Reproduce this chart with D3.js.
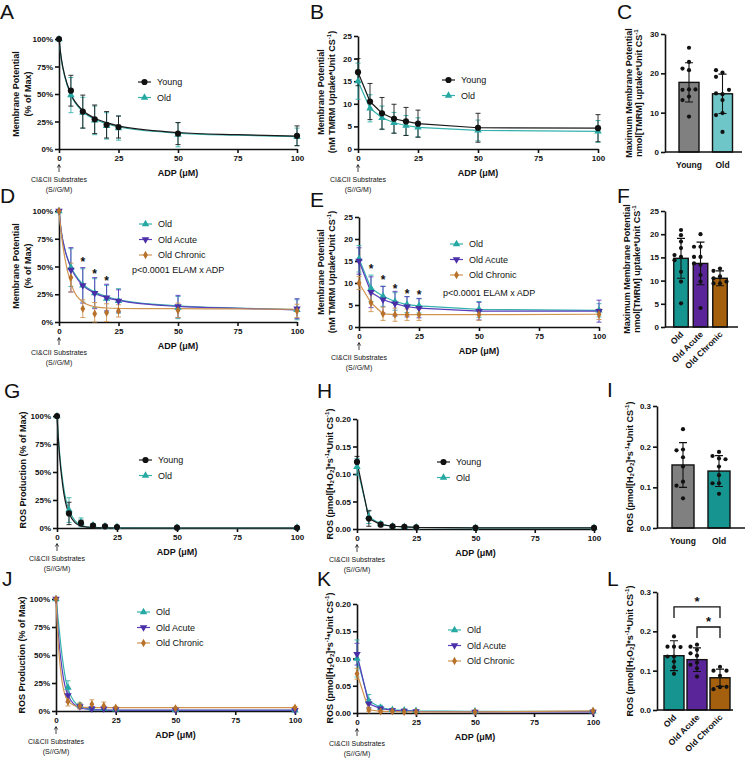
<!DOCTYPE html>
<html>
<head>
<meta charset="utf-8">
<script src="https://cdn.jsdelivr.net/npm/d3@7"></script>
<style>
  body { margin: 0; background: #fff; }
  svg { font-family: Arial, "Liberation Sans", sans-serif; }
  .tick text { font-weight: bold; font-size: 8px; fill: #111; }
  .domain, .tick line { stroke: #111; stroke-width: 1.6; }
</style>
</head>
<body>
<svg id="fig" width="746" height="759"></svg>
<script>
// ADP titration points and the points where the fitted curves are read
const adp = [0, 5, 10, 15, 20, 25, 50, 100];
const fitAdp = [0, 1, 2.5, 5, 10, 15, 20, 25, 50, 75, 100];
const adpTicks = [0, 25, 50, 75, 100];

// A - membrane potential, % of max
const aYoung = [100, 53, 34, 27, 22, 20, 14, 12];
const aYoungSd = [0, 14, 15, 13, 12, 10, 10, 9];
const aOld = [100, 49, 33, 26, 21, 19, 13, 11];
const aOldSd = [0, 16, 14, 13, 12, 11, 11, 8];
const aYoungFit = [100, 82, 66, 50, 35, 28, 24, 21, 15, 13, 11.7];
const aOldFit = [100, 81, 65, 49, 34, 27, 23, 20, 14.5, 12.5, 11.2];

// B - membrane potential, absolute
const bYoung = [17, 10.5, 7.9, 6.7, 6.1, 5.6, 4.7, 4.6];
const bYoungSd = [3, 4, 3.5, 3.2, 3.1, 3, 3.2, 3];
const bOld = [15, 9, 6.9, 5.8, 5.2, 4.8, 4.1, 3.9];
const bOldSd = [4, 3, 2.6, 2.3, 2.2, 2.1, 2.3, 2.4];

// C - max membrane potential
const cGroups = ["Young", "Old"];
const cMeans = [17.7, 14.8];
const cSds = [5.0, 5.0];
const cYoungPts = [26.5, 22.9, 20.8, 21.2, 15.9, 15.8, 15.9, 14.1, 13.2, 9.0];
const cOldPts = [20.2, 20.8, 19.1, 14.7, 14.9, 15.8, 13.2, 9.9, 9.4, 5.1];

// D - membrane potential, % of max, ELAM
const dOld = [100, 49, 33, 26, 21, 19, 13, 11];
const dOldSd = [0, 17, 15, 13, 12, 11, 10, 9];
const dAcute = [100, 47, 33, 26, 22, 19, 14, 12];
const dAcuteSd = [0, 20, 16, 14, 12, 10, 10, 9];
const dChronic = [100, 40, 12, 7.5, 8.4, 10, 10.5, 10];
const dChronicSd = [0, 13, 8, 10, 8, 5.5, 6.5, 6];
const dOldFit = [100, 81, 65, 50, 34, 27, 23, 20, 14.5, 12.5, 11.2];
const dAcuteFit = [100, 81, 65, 49, 33, 26, 22, 19.5, 14, 12.3, 11];
const dChronicFit = [100, 79, 57, 35, 18, 13.8, 12.6, 12.2, 12, 11.8, 11.5];
const dStarX = [10, 15, 20];
const dStarY = [55, 44, 38];

// E - membrane potential, absolute, ELAM
const eOld = [15.5, 8.8, 7.0, 5.8, 5.1, 4.8, 4.0, 3.8];
const eOldSd = [3, 3, 2.3, 2, 1.8, 1.6, 1.8, 1.5];
const eAcute = [15, 7.9, 6.2, 5.3, 4.6, 4.3, 3.6, 3.6];
const eAcuteSd = [3, 3.5, 3, 2.8, 2.3, 2.2, 2, 2.5];
const eChronic = [10, 5.5, 3.0, 2.8, 2.8, 2.8, 2.8, 2.9];
const eChronicSd = [1.5, 2, 1.5, 1.5, 1.3, 1.3, 1.3, 1.2];
const eStarX = [5, 10, 15, 20, 25];
const eStarY = [13.5, 11, 8.9, 7.8, 7.6];

// F - max membrane potential, ELAM
const elamGroups = ["Old", "Old Acute", "Old Chronic"];
const fMeans = [14.8, 13.7, 10.5];
const fSds = [4.3, 4.6, 1.6];
const fOldPts = [20.9, 19.8, 18.4, 17.0, 15.1, 15.5, 14.4, 11.9, 9.8, 5.1];
const fAcutePts = [20.0, 17.3, 17.3, 15.1, 15.1, 13.4, 13.7, 11.2, 9.8, 4.1];
const fChronicPts = [12.6, 12.1, 10.9, 10.5, 9.4, 9.4, 9.8];

// G - ROS production, % of max
const gYoung = [100, 13, 4.5, 2.2, 1.5, 0.8, 0.3, 0.2];
const gYoungSd = [0, 10, 2.5, 1, 0.8, 0.5, 0.3, 0.2];
const gOld = [100, 16, 5, 2.5, 1.5, 1, 0.5, 0.3];
const gOldSd = [0, 11, 4, 1.5, 1, 0.5, 0.3, 0.2];
const gYoungFit = [100, 66, 36, 13, 1.7, 0.3, 0.1, 0, 0, 0, 0];
const gOldFit = [100, 69, 40, 16, 2.5, 0.5, 0.2, 0.1, 0, 0, 0];

// H - ROS, absolute
const hYoung = [0.122, 0.019, 0.008, 0.005, 0.004, 0.003, 0.002, 0.002];
const hYoungSd = [0.01, 0.014, 0.004, 0.002, 0.002, 0.001, 0.001, 0.001];
const hOld = [0.113, 0.022, 0.009, 0.005, 0.004, 0.003, 0.002, 0.002];
const hOldSd = [0.015, 0.012, 0.004, 0.002, 0.002, 0.001, 0.001, 0.001];

// I - ROS bars
const iMeans = [0.155, 0.14];
const iSds = [0.055, 0.038];
const iYoungPts = [0.243, 0.193, 0.191, 0.174, 0.151, 0.114, 0.104, 0.073];
const iOldPts = [0.187, 0.177, 0.171, 0.169, 0.151, 0.130, 0.110, 0.110, 0.084];

// J - ROS production, % of max, ELAM
const jOld = [100, 21, 5, 2.5, 2, 1.5, 1, 0.5];
const jOldSd = [0, 6, 2, 1.5, 1, 1, 0.5, 0.5];
const jAcute = [100, 14, 4, 2, 2, 1.5, 1, 0.8];
const jAcuteSd = [0, 6, 2, 1.5, 1.5, 1, 0.5, 0.5];
const jChronic = [100, 8.5, 4.5, 6, 4.5, 3, 2.4, 3];
const jChronicSd = [0, 4, 2.5, 4, 3.5, 1, 1, 1];
const jOldFit = [100, 80, 50, 20, 4, 1.5, 0.8, 0.5, 0.5, 0.5, 0.5];
const jAcuteFit = [100, 68, 38, 14, 2.7, 1.2, 0.9, 0.8, 0.8, 0.8, 0.8];
const jChronicFit = [100, 58, 27, 9, 3.4, 3.0, 3, 3, 3, 3, 3];

// K - ROS, absolute, ELAM
const kOld = [0.100, 0.022, 0.010, 0.006, 0.005, 0.004, 0.003, 0.003];
const kOldSd = [0.034, 0.012, 0.004, 0.002, 0.002, 0.001, 0.001, 0.001];
const kAcute = [0.108, 0.017, 0.008, 0.005, 0.004, 0.003, 0.002, 0.002];
const kAcuteSd = [0.02, 0.008, 0.004, 0.002, 0.002, 0.001, 0.001, 0.001];
const kChronic = [0.072, 0.006, 0.003, 0.003, 0.002, 0.002, 0.002, 0.004];
const kChronicSd = [0.01, 0.003, 0.002, 0.001, 0.001, 0.001, 0.001, 0.002];

// L - ROS bars, ELAM
const lMeans = [0.138, 0.128, 0.082];
const lSds = [0.038, 0.03, 0.022];
const lOldPts = [0.187, 0.161, 0.161, 0.160, 0.136, 0.136, 0.123, 0.109, 0.092];
const lAcutePts = [0.166, 0.161, 0.153, 0.144, 0.138, 0.121, 0.115, 0.106, 0.085];
const lChronicPts = [0.110, 0.100, 0.100, 0.087, 0.058, 0.053, 0.059];
const lSigFrom = ["Old", "Old Acute"];
const lSigTo = ["Old Chronic", "Old Chronic"];
const lSigY = [0.262, 0.211];

const C = {
  young: "#1a1a1a", youngBar: "#808080",
  old: "#35b2ae", oldBar: "#16948f", oldLight: "#6fc6c8",
  acute: "#5a3cbc", acuteBar: "#5a2599",
  chronic: "#d0944f", chronicBar: "#a4600f"
};

const svg = d3.select("#fig");

function richText(t, parts) {
  let shift = 0;
  parts.forEach(([s, kind]) => {
    const target = kind === "sup" ? -3.5 : kind === "sub" ? 2 : 0;
    t.append("tspan")
      .attr("dy", target - shift)
      .style("font-size", kind === "n" ? null : "6px")
      .text(s);
    shift = target;
  });
}

function yLabel(lines, xs, cy) {
  lines.forEach((parts, i) => {
    const t = svg.append("text")
      .attr("transform", `translate(${xs[i]},${cy}) rotate(-90)`)
      .attr("text-anchor", "middle")
      .attr("dominant-baseline", "central")
      .style("font-size", "9px")
      .style("font-weight", "bold")
      .attr("fill", "#111");
    richText(t, parts);
  });
}

function letter(txt, x, y) {
  svg.append("text").attr("x", x).attr("y", y)
    .style("font-size", "21px").attr("fill", "#111").text(txt);
}

function marker(g, shape, color, cx, cy) {
  const type = shape === "circle" ? d3.symbolCircle
    : shape === "diamond" ? d3.symbolDiamond : d3.symbolTriangle;
  const size = shape === "circle" ? 30 : shape === "diamond" ? 20 : 24;
  g.append("path")
    .attr("d", d3.symbol(type, size)())
    .attr("transform", `translate(${cx},${cy})` + (shape === "down" ? " rotate(180)" : ""))
    .attr("fill", color);
}

function linePanel(p) {
  const x = d3.scaleLinear().domain([0, 100]).range([p.x0, p.x1]);
  const y = d3.scaleLinear().domain(p.yDomain).range([p.yb, p.yt]);
  const g = svg.append("g");

  g.append("g").attr("transform", `translate(0,${p.yb})`)
    .call(d3.axisBottom(x).tickValues(adpTicks).tickSize(4).tickSizeOuter(0).tickPadding(2));
  g.append("g").attr("transform", `translate(${p.x0},0)`)
    .call(d3.axisLeft(y).tickValues(p.yTicks).tickFormat(p.fmt).tickSize(4).tickSizeOuter(0).tickPadding(2));

  const lo = p.yDomain[0];
  // error bars
  p.series.forEach(s => {
    adp.forEach((a, i) => {
      if (!s.sd[i]) return;
      const y1 = y(Math.max(lo, s.mean[i] - s.sd[i]));
      const y2 = y(s.mean[i] + s.sd[i]);
      const cx = x(a);
      g.append("path")
        .attr("d", `M${cx},${y1}V${y2}M${cx - 2.5},${y2}H${cx + 2.5}M${cx - 2.5},${y1}H${cx + 2.5}`)
        .attr("stroke", s.color).attr("stroke-width", 0.9).attr("fill", "none");
    });
  });
  // lines / fitted curves
  p.series.forEach(s => {
    const xs = s.fit ? fitAdp : adp;
    const ys = s.fit ? s.fit : s.mean;
    const line = d3.line().x(d => x(d[0])).y(d => y(d[1]));
    if (s.fit) line.curve(d3.curveMonotoneX);
    g.append("path").datum(xs.map((a, i) => [a, ys[i]]))
      .attr("d", line).attr("fill", "none")
      .attr("stroke", s.color).attr("stroke-width", 1.2);
  });
  // markers
  p.series.forEach(s => {
    adp.forEach((a, i) => marker(g, s.shape, s.fill, x(a), y(s.mean[i])));
  });

  // legend (order can differ from drawing order)
  const order = p.legendOrder || p.series.map((_, i) => i);
  order.forEach((si, i) => {
    const s = p.series[si];
    const ly = p.legend[1] + i * 15.5;
    const lx = p.legend[0];
    g.append("line").attr("x1", lx).attr("x2", lx + 13).attr("y1", ly).attr("y2", ly)
      .attr("stroke", s.color).attr("stroke-width", 1.2);
    marker(g, s.shape, s.fill, lx + 6.5, ly);
    g.append("text").attr("x", lx + 19).attr("y", ly).attr("dominant-baseline", "central")
      .style("font-size", "9px").attr("fill", "#111").text(s.name);
  });

  if (p.stars) {
    p.stars[0].forEach((sx, i) => {
      g.append("text").attr("x", x(sx)).attr("y", y(p.stars[1][i]) + 5)
        .attr("text-anchor", "middle").style("font-size", "12px").style("font-weight", "bold")
        .attr("fill", "#111").text("*");
    });
  }
  if (p.pText) {
    g.append("text").attr("x", p.pText[0]).attr("y", p.pText[1])
      .attr("dominant-baseline", "central").style("font-size", "9px")
      .attr("fill", "#111").text("p<0.0001 ELAM x ADP");
  }

  // x title and substrate note
  g.append("text").attr("x", x(50)).attr("y", p.yb + 24)
    .attr("text-anchor", "middle").attr("dominant-baseline", "central")
    .style("font-size", "9px").style("font-weight", "bold").attr("fill", "#111")
    .text("ADP (\u03bcM)");
  const ax = x(0);
  g.append("path")
    .attr("d", `M${ax},${p.yb + 23}V${p.yb + 16}M${ax - 1.6},${p.yb + 18.5}L${ax},${p.yb + 15.5}L${ax + 1.6},${p.yb + 18.5}`)
    .attr("stroke", "#111").attr("stroke-width", 0.8).attr("fill", "none");
  g.append("text").attr("x", ax).attr("y", p.yb + 30).attr("text-anchor", "middle")
    .attr("dominant-baseline", "central").style("font-size", "7px").attr("fill", "#111")
    .text("CI&CII Substrates");
  g.append("text").attr("x", ax).attr("y", p.yb + 40).attr("text-anchor", "middle")
    .attr("dominant-baseline", "central").style("font-size", "7px").attr("fill", "#111")
    .text("(S//G/M)");

  yLabel(p.label, p.labelX, p.labelY);
}

function swarm(vals, y) {
  const placed = [];
  const offs = [0, -6.5, 6.5, -3.3, 3.3, -9.5, 9.5];
  return vals.map(v => {
    const py = y(v);
    for (const o of offs) {
      if (!placed.some(q => Math.hypot(q.o - o, q.py - py) < 4.6)) {
        placed.push({ o, py });
        return o;
      }
    }
    placed.push({ o: 0, py });
    return 0;
  });
}

function barPanel(p) {
  const y = d3.scaleLinear().domain(p.yDomain).range([p.yb, p.yt]);
  const x = d3.scalePoint().domain(p.groups).range([p.c0, p.c1]);
  const g = svg.append("g");

  p.groups.forEach((gr, i) => {
    const cx = x(gr);
    g.append("rect").attr("x", cx - p.bw / 2).attr("y", y(p.means[i]))
      .attr("width", p.bw).attr("height", p.yb - y(p.means[i]))
      .attr("fill", p.colors[i]).attr("stroke", "#111").attr("stroke-width", 1.4);
  });
  p.groups.forEach((gr, i) => {
    const cx = x(gr);
    const y1 = y(p.means[i] - p.sds[i]);
    const y2 = y(p.means[i] + p.sds[i]);
    g.append("path")
      .attr("d", `M${cx},${y1}V${y2}M${cx - 4},${y2}H${cx + 4}M${cx - 4},${y1}H${cx + 4}`)
      .attr("stroke", "#111").attr("stroke-width", 1.1).attr("fill", "none");
    const offs = swarm(p.points[i], y);
    p.points[i].forEach((v, k) => {
      g.append("circle").attr("cx", cx + offs[k]).attr("cy", y(v)).attr("r", 2.1).attr("fill", "#111");
    });
  });

  g.append("g").attr("transform", `translate(${p.x0},0)`)
    .call(d3.axisLeft(y).tickValues(p.yTicks).tickFormat(p.fmt).tickSize(4).tickSizeOuter(0).tickPadding(2));
  g.append("line").attr("x1", p.x0).attr("x2", p.x1).attr("y1", p.yb).attr("y2", p.yb)
    .attr("stroke", "#111").attr("stroke-width", 1.6);

  p.groups.forEach(gr => {
    const t = g.append("text").style("font-size", "8.5px").style("font-weight", "bold")
      .attr("fill", "#111").text(gr);
    if (p.rotate) {
      t.attr("text-anchor", "end")
        .attr("transform", `translate(${x(gr) + 3},${p.yb + 8}) rotate(-45)`);
    } else {
      t.attr("x", x(gr)).attr("y", p.yb + 13).attr("text-anchor", "middle")
        .attr("dominant-baseline", "central");
    }
  });

  if (p.sig) {
    p.sig.from.forEach((f, i) => {
      const xa = x(f), xb = x(p.sig.to[i]);
      const yy = y(p.sig.y[i]);
      g.append("path").attr("d", `M${xa},${yy + 11}V${yy}H${xb}V${yy + 11}`)
        .attr("stroke", "#111").attr("stroke-width", 1.3).attr("fill", "none");
      g.append("text").attr("x", (xa + xb) / 2).attr("y", yy - 1)
        .attr("text-anchor", "middle").style("font-size", "13px").style("font-weight", "bold")
        .attr("fill", "#111").text("*");
    });
  }

  yLabel(p.label, p.labelX, p.labelY);
}

const pct = d => d + "%";
const lblMemPct = [[["Membrane Potential", "n"]], [["(% of Max)", "n"]]];
const lblMemAbs = [[["Membrane Potential", "n"]],
  [["(nM TMRM Uptake*Unit CS", "n"], ["-1", "sup"], [")", "n"]]];
const lblMax = [[["Maximum Membrane Potential", "n"]],
  [["nmol[TMRM] uptake*Unit CS", "n"], ["-1", "sup"]]];
const lblRosPct = [[["ROS Production (% of Max)", "n"]]];
const lblRos = [[["ROS (pmol[H", "n"], ["2", "sub"], ["O", "n"], ["2", "sub"], ["]*s", "n"],
  ["-1", "sup"], ["*Unit CS", "n"], ["-1", "sup"], [")", "n"]]];

function ser(name, mean, sd, fit, kind) {
  const look = {
    young: [C.young, "#111", "circle"],
    old: [C.old, "#26a8a3", "up"],
    acute: [C.acute, "#4a2fa8", "down"],
    chronic: [C.chronic, "#b8712a", "diamond"]
  }[kind];
  return { name, mean, sd, fit, color: look[0], fill: look[1], shape: look[2] };
}

// A
linePanel({ x0: 59, x1: 297, yt: 39, yb: 149, yDomain: [0, 100], yTicks: [0, 25, 50, 75, 100], fmt: pct,
  series: [ser("Old", aOld, aOldSd, aOldFit, "old"), ser("Young", aYoung, aYoungSd, aYoungFit, "young")],
  legendOrder: [1, 0], legend: [138, 82], label: lblMemPct, labelX: [16, 28], labelY: 94 });
// B
linePanel({ x0: 358, x1: 598, yt: 36, yb: 149, yDomain: [0, 25], yTicks: [0, 5, 10, 15, 20, 25], fmt: d => d,
  series: [ser("Old", bOld, bOldSd, null, "old"), ser("Young", bYoung, bYoungSd, null, "young")],
  legendOrder: [1, 0], legend: [442, 80], label: lblMemAbs, labelX: [321, 332], labelY: 92 });
// C
barPanel({ x0: 665, x1: 742, yt: 34, yb: 152, yDomain: [0, 30], yTicks: [0, 10, 20, 30], fmt: d => d,
  groups: cGroups, c0: 689, c1: 722.5, bw: 20, means: cMeans, sds: cSds,
  points: [cYoungPts, cOldPts], colors: [C.youngBar, C.oldLight],
  label: lblMax, labelX: [629, 639], labelY: 93 });
// D
linePanel({ x0: 59, x1: 297, yt: 211, yb: 322, yDomain: [0, 100], yTicks: [0, 25, 50, 75, 100], fmt: pct,
  series: [ser("Old", dOld, dOldSd, dOldFit, "old"), ser("Old Acute", dAcute, dAcuteSd, dAcuteFit, "acute"),
    ser("Old Chronic", dChronic, dChronicSd, dChronicFit, "chronic")],
  legend: [139, 224], stars: [dStarX, dStarY], pText: [132, 270],
  label: lblMemPct, labelX: [16, 28], labelY: 266 });
// E
linePanel({ x0: 359, x1: 599, yt: 217, yb: 327, yDomain: [0, 25], yTicks: [0, 5, 10, 15, 20, 25], fmt: d => d,
  series: [ser("Old", eOld, eOldSd, null, "old"), ser("Old Acute", eAcute, eAcuteSd, null, "acute"),
    ser("Old Chronic", eChronic, eChronicSd, null, "chronic")],
  legend: [450, 244], stars: [eStarX, eStarY], pText: [443, 293],
  label: lblMemAbs, labelX: [321, 332], labelY: 272 });
// F
barPanel({ x0: 665, x1: 738, yt: 211, yb: 327, yDomain: [0, 25], yTicks: [0, 5, 10, 15, 20, 25], fmt: d => d,
  groups: elamGroups, c0: 681, c1: 720, bw: 14.5, means: fMeans, sds: fSds,
  points: [fOldPts, fAcutePts, fChronicPts], colors: [C.oldBar, C.acuteBar, C.chronicBar], rotate: true,
  label: lblMax, labelX: [627, 637], labelY: 269 });
// G
linePanel({ x0: 57, x1: 297, yt: 416, yb: 528, yDomain: [0, 100], yTicks: [0, 25, 50, 75, 100], fmt: pct,
  series: [ser("Old", gOld, gOldSd, gOldFit, "old"), ser("Young", gYoung, gYoungSd, gYoungFit, "young")],
  legendOrder: [1, 0], legend: [139, 460], label: lblRosPct, labelX: [23], labelY: 470 });
// H
linePanel({ x0: 357, x1: 594, yt: 419, yb: 529, yDomain: [0, 0.2], yTicks: [0, 0.05, 0.1, 0.15, 0.2], fmt: d3.format(".2f"),
  series: [ser("Old", hOld, hOldSd, null, "old"), ser("Young", hYoung, hYoungSd, null, "young")],
  legendOrder: [1, 0], legend: [437, 462], label: lblRos, labelX: [330], labelY: 474 });
// I
barPanel({ x0: 657, x1: 745, yt: 406, yb: 528, yDomain: [0, 0.3], yTicks: [0, 0.1, 0.2, 0.3], fmt: d3.format(".1f"),
  groups: cGroups, c0: 683, c1: 719, bw: 22, means: iMeans, sds: iSds,
  points: [iYoungPts, iOldPts], colors: [C.youngBar, C.oldBar],
  label: lblRos, labelX: [630], labelY: 467 });
// J
linePanel({ x0: 56, x1: 295, yt: 599, yb: 711, yDomain: [0, 100], yTicks: [0, 25, 50, 75, 100], fmt: pct,
  series: [ser("Old", jOld, jOldSd, jOldFit, "old"), ser("Old Acute", jAcute, jAcuteSd, jAcuteFit, "acute"),
    ser("Old Chronic", jChronic, jChronicSd, jChronicFit, "chronic")],
  legend: [137, 612], label: lblRosPct, labelX: [22], labelY: 655 });
// K
linePanel({ x0: 357, x1: 593, yt: 604, yb: 713, yDomain: [0, 0.2], yTicks: [0, 0.05, 0.1, 0.15, 0.2], fmt: d3.format(".2f"),
  series: [ser("Old", kOld, kOldSd, null, "old"), ser("Old Acute", kAcute, kAcuteSd, null, "acute"),
    ser("Old Chronic", kChronic, kChronicSd, null, "chronic")],
  legend: [448, 630], label: lblRos, labelX: [330], labelY: 658 });
// L
barPanel({ x0: 657, x1: 733, yt: 592, yb: 710, yDomain: [0, 0.3], yTicks: [0, 0.1, 0.2, 0.3], fmt: d3.format(".1f"),
  groups: elamGroups, c0: 674, c1: 720, bw: 20, means: lMeans, sds: lSds,
  points: [lOldPts, lAcutePts, lChronicPts], colors: [C.oldBar, C.acuteBar, C.chronicBar], rotate: true,
  sig: { from: lSigFrom, to: lSigTo, y: lSigY },
  label: lblRos, labelX: [630], labelY: 651 });

letter("A", 0, 19); letter("B", 310, 19); letter("C", 617, 19);
letter("D", 0, 203); letter("E", 310, 207); letter("F", 617, 203);
letter("G", 4, 398); letter("H", 317, 398); letter("I", 607, 397);
letter("J", 2, 586); letter("K", 317, 586); letter("L", 607, 586);
</script>
</body>
</html>
